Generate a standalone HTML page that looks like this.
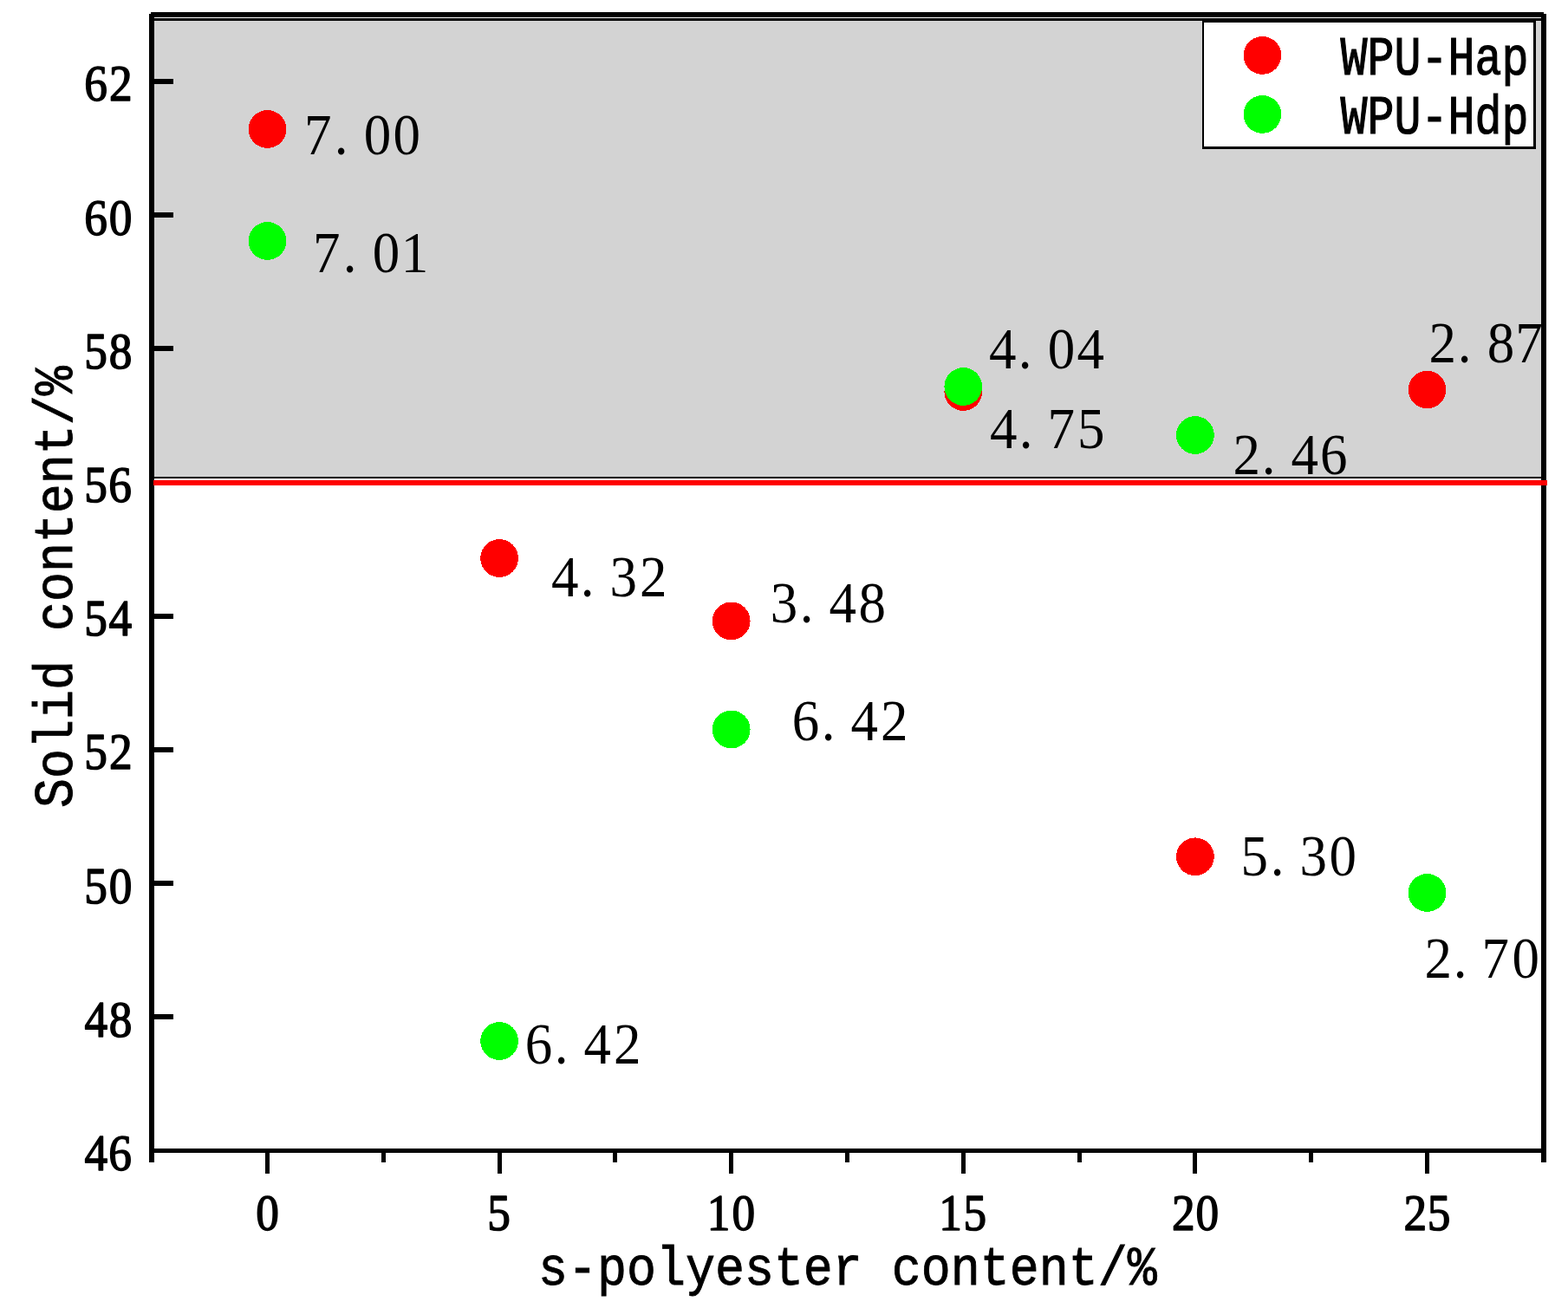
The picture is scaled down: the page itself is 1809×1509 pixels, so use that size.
<!DOCTYPE html>
<html lang="en">
<head>
<meta charset="utf-8">
<title>Solid content vs s-polyester content</title>
<style>
html,body{margin:0;padding:0;background:#fff;}
body{width:1809px;height:1509px;overflow:hidden;}
svg{display:block;}
rect,circle{shape-rendering:crispEdges;}
text{font-family:"Liberation Serif","DejaVu Serif",serif;fill:#000;white-space:pre;}
.ticklabels text{stroke:#000;stroke-width:1.5px;stroke-linejoin:round;}
.mono text{font-family:"Liberation Mono","DejaVu Sans Mono",monospace;stroke:#000;}
</style>
</head>
<body>
<svg width="1809" height="1509" viewBox="0 0 1809 1509">
<rect x="0" y="0" width="1809" height="1509" fill="#fff"/>
<g class="band">
<rect x="178" y="21" width="1600" height="531" fill="#000"/>
<rect x="178" y="24" width="1600" height="526" fill="#d3d3d3"/>
</g>
<g class="legend mono">
<rect x="1387" y="23" width="385" height="149" fill="#000"/>
<rect x="1389" y="26" width="380" height="143" fill="#fff"/>
<circle cx="1456.4" cy="63.9" r="21.9" fill="#ff0000"/>
<text transform="translate(1546.5 86.2) scale(0.8265 1)" font-size="62.5" stroke-width="1.2">WPU-Hap</text>
<circle cx="1456.4" cy="131.9" r="21.9" fill="#00ff00"/>
<text transform="translate(1546.5 154.2) scale(0.8265 1)" font-size="62.5" stroke-width="1.2">WPU-Hdp</text>
</g>
<g class="series hap">
<circle cx="308.5" cy="149" r="21.9" fill="#ff0000"/>
<circle cx="576.1" cy="644" r="21.9" fill="#ff0000"/>
<circle cx="843.7" cy="716.4" r="21.9" fill="#ff0000"/>
<circle cx="1111.3" cy="452" r="21.9" fill="#ff0000"/>
<circle cx="1378.9" cy="988.3" r="21.9" fill="#ff0000"/>
<circle cx="1646.5" cy="449.5" r="21.9" fill="#ff0000"/>
</g>
<g class="series hdp">
<circle cx="308.5" cy="278" r="21.9" fill="#00ff00"/>
<circle cx="576.1" cy="1201" r="21.9" fill="#00ff00"/>
<circle cx="843.7" cy="841.5" r="21.9" fill="#00ff00"/>
<circle cx="1111.3" cy="446" r="21.9" fill="#00ff00"/>
<circle cx="1378.9" cy="502" r="21.9" fill="#00ff00"/>
<circle cx="1646.5" cy="1030" r="21.9" fill="#00ff00"/>
</g>
<g class="datalabels">
<text transform="translate(351 177.7) scale(0.92 1)" x="-0.03 37.77 74.72 111.46" y="0" font-size="68.5">7.00</text>
<text transform="translate(361 313.7) scale(0.92 1)" x="-0.03 37.77 74.72 110.51" y="0" font-size="68.5">7.01</text>
<text transform="translate(1140 425.2) scale(0.92 1)" x="1.11 37.77 74.72 111.33" y="0" font-size="68.5">4.04</text>
<text transform="translate(1141 516.7) scale(0.92 1)" x="1.11 37.77 73.45 110.81" y="0" font-size="68.5">4.75</text>
<text transform="translate(1421 546.7) scale(0.92 1)" x="1.63 37.77 74.59 111.01" y="0" font-size="68.5">2.46</text>
<text transform="translate(1647 418.2) scale(0.92 1)" x="1.63 37.77 74.72 110.19" y="0" font-size="68.5">2.87</text>
<text transform="translate(635 687.7) scale(0.92 1)" x="1.11 37.77 74.42 111.85" y="0" font-size="68.5">4.32</text>
<text transform="translate(888 717.7) scale(0.92 1)" x="0.94 37.77 74.59 111.46" y="0" font-size="68.5">3.48</text>
<text transform="translate(913 853.7) scale(0.92 1)" x="0.79 37.77 74.59 111.85" y="0" font-size="68.5">6.42</text>
<text transform="translate(1431 1009.7) scale(0.92 1)" x="0.59 37.77 74.42 111.46" y="0" font-size="68.5">5.30</text>
<text transform="translate(1642 1127.7) scale(0.92 1)" x="1.63 37.77 73.45 111.46" y="0" font-size="68.5">2.70</text>
<text transform="translate(605 1227.1) scale(0.92 1)" x="0.79 37.77 74.59 111.85" y="0" font-size="68.5">6.42</text>
</g>
<g class="axes">
<rect x="172" y="16" width="6" height="1325" fill="#000"/>
<rect x="1778" y="16" width="6" height="1325" fill="#000"/>
<rect x="174" y="14" width="1607" height="6" fill="#000"/>
<rect x="172" y="1325" width="1612" height="5" fill="#000"/>
<rect x="178" y="1170" width="22" height="6" fill="#000"/>
<rect x="178" y="1016" width="22" height="6" fill="#000"/>
<rect x="178" y="862" width="22" height="6" fill="#000"/>
<rect x="178" y="708" width="22" height="6" fill="#000"/>
<rect x="178" y="554" width="22" height="6" fill="#000"/>
<rect x="178" y="399" width="22" height="6" fill="#000"/>
<rect x="178" y="245" width="22" height="6" fill="#000"/>
<rect x="178" y="91" width="22" height="6" fill="#000"/>
<rect x="306" y="1330" width="5" height="24" fill="#000"/>
<rect x="574" y="1330" width="5" height="24" fill="#000"/>
<rect x="841" y="1330" width="5" height="24" fill="#000"/>
<rect x="1109" y="1330" width="5" height="24" fill="#000"/>
<rect x="1376" y="1330" width="5" height="24" fill="#000"/>
<rect x="1644" y="1330" width="5" height="24" fill="#000"/>
<rect x="440" y="1330" width="5" height="11" fill="#000"/>
<rect x="707" y="1330" width="5" height="11" fill="#000"/>
<rect x="975" y="1330" width="5" height="11" fill="#000"/>
<rect x="1243" y="1330" width="5" height="11" fill="#000"/>
<rect x="1510" y="1330" width="5" height="11" fill="#000"/>
</g>
<g class="refline">
<rect x="177" y="554" width="1608" height="6" fill="#ff0000"/>
</g>
<g class="ticklabels yaxis">
<text transform="translate(97 116.4) scale(0.915 1)" x="0.37 31.68" y="0" font-size="58.2">62</text>
<text transform="translate(97 270.6) scale(0.915 1)" x="0.37 31.35" y="0" font-size="58.2">60</text>
<text transform="translate(97 424.8) scale(0.915 1)" x="0.20 31.35" y="0" font-size="58.2">58</text>
<text transform="translate(97 579) scale(0.915 1)" x="0.20 30.97" y="0" font-size="58.2">56</text>
<text transform="translate(97 733.2) scale(0.915 1)" x="0.20 31.24" y="0" font-size="58.2">54</text>
<text transform="translate(97 887.4) scale(0.915 1)" x="0.20 31.68" y="0" font-size="58.2">52</text>
<text transform="translate(97 1041.6) scale(0.915 1)" x="0.20 31.35" y="0" font-size="58.2">50</text>
<text transform="translate(97 1195.8) scale(0.915 1)" x="0.64 31.35" y="0" font-size="58.2">48</text>
<text transform="translate(97 1350) scale(0.915 1)" x="0.64 30.97" y="0" font-size="58.2">46</text>
</g>
<g class="ticklabels xaxis">
<text transform="translate(294.5 1418.5) scale(0.915 1)" x="0.75" y="0" font-size="58.2">0</text>
<text transform="translate(562.1 1418.5) scale(0.915 1)" x="0.20" y="0" font-size="58.2">5</text>
<text transform="translate(815.7 1418.5) scale(0.915 1)" x="-0.06 31.35" y="0" font-size="58.2">10</text>
<text transform="translate(1083.3 1418.5) scale(0.915 1)" x="-0.06 30.80" y="0" font-size="58.2">15</text>
<text transform="translate(1350.9 1418.5) scale(0.915 1)" x="1.08 31.35" y="0" font-size="58.2">20</text>
<text transform="translate(1618.5 1418.5) scale(0.915 1)" x="1.08 30.80" y="0" font-size="58.2">25</text>
</g>
<g class="titles mono">
<text transform="translate(83.2 932) rotate(-90) scale(0.9065 1)" font-size="62.5" stroke-width="0.9">Solid content/%</text>
<text transform="translate(621 1482) scale(0.9065 1)" font-size="62.5" stroke-width="0.9">s-polyester content/%</text>
</g>
</svg>
</body>
</html>
